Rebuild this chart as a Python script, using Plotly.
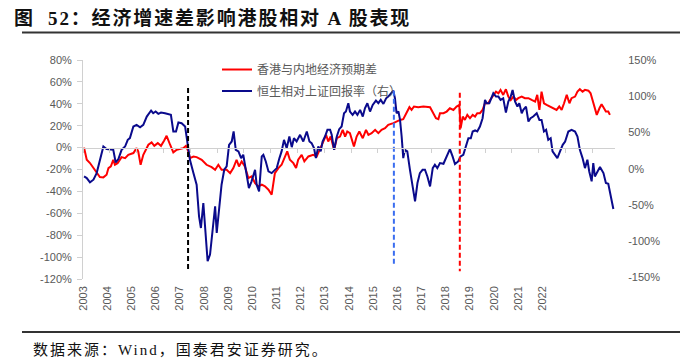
import plotly.graph_objects as go

# ---------------- data ----------------
# 香港与内地经济预期差 (left axis, %)
red_x = [2003.04, 2003.14, 2003.26, 2003.39, 2003.51, 2003.63, 2003.76, 2003.88, 2003.95, 2004.04,
         2004.13, 2004.19, 2004.29, 2004.44, 2004.57, 2004.69, 2004.88, 2005.00, 2005.06, 2005.15,
         2005.25, 2005.34, 2005.44, 2005.56, 2005.66, 2005.79, 2005.91, 2006.03, 2006.12, 2006.25,
         2006.37, 2006.50, 2006.62, 2006.74, 2006.84, 2006.93, 2006.99, 2007.12, 2007.24, 2007.43,
         2007.61, 2007.80, 2007.93, 2008.05, 2008.17, 2008.36, 2008.49, 2008.61, 2008.73, 2008.82,
         2008.92, 2009.04, 2009.17, 2009.29, 2009.42, 2009.54, 2009.67, 2009.79, 2009.92, 2010.04,
         2010.16, 2010.29, 2010.41, 2010.54, 2010.62, 2010.72, 2010.85, 2010.95, 2011.03, 2011.16,
         2011.26, 2011.41, 2011.59, 2011.72, 2011.84, 2011.97, 2012.07, 2012.15, 2012.24, 2012.37,
         2012.47, 2012.59, 2012.69, 2012.78, 2012.86, 2012.96, 2013.11, 2013.21, 2013.31, 2013.44,
         2013.56, 2013.65, 2013.77, 2013.90, 2014.02, 2014.14, 2014.27, 2014.39, 2014.58, 2014.70,
         2014.83, 2014.95, 2015.08, 2015.18, 2015.26, 2015.35, 2015.51, 2015.70, 2015.95, 2016.05,
         2016.17, 2016.26, 2016.32, 2016.45, 2016.57, 2016.69, 2016.82, 2016.94, 2017.04, 2017.09,
         2017.17, 2017.25, 2017.34, 2017.44, 2017.54, 2017.63, 2017.71, 2017.81, 2017.91, 2018.00,
         2018.12, 2018.19, 2018.31, 2018.41, 2018.50, 2018.58, 2018.68, 2018.78, 2018.87, 2018.96,
         2019.06, 2019.16, 2019.24, 2019.37, 2019.49, 2019.62, 2019.74, 2019.87, 2019.95, 2020.03,
         2020.11, 2020.20, 2020.30, 2020.42, 2020.55, 2020.67, 2020.77, 2020.86, 2020.95, 2021.05,
         2021.15, 2021.23, 2021.36, 2021.45, 2021.54, 2021.64, 2021.73, 2021.86, 2021.94, 2022.04,
         2022.17, 2022.27, 2022.35, 2022.44, 2022.51, 2022.60, 2022.66]
red_y = [0.0, -11.1, -14.1, -18.7, -23.2, -26.9, -27.2, -24.8, -18.7, -17.2,
         -11.1, -15.7, -14.2, -8.7, -9.6, -6.6, -5.0, -0.5, -3.5, -15.7,
         -6.6, -2.0, 2.6, 4.7, 1.6, 4.1, 1.6, 6.5, 10.8, 2.6,
         -4.4, -2.0, -1.4, -0.5, 1.6, -3.5, -9.6, -8.1, -8.7, -11.1,
         -15.7, -17.8, -20.2, -15.7, -20.2, -20.2, -23.3, -18.7, -11.1, -17.2,
         -12.6, -17.2, -27.8, -26.3, -32.4, -35.4, -33.9, -35.4, -38.5, -43.0,
         -23.3, -18.7, -15.7, -7.5, -3.5, -11.1, -14.2, -18.7, -11.1, -6.6,
         -12.6, -8.1, -6.6, -8.1, -2.0, 5.6, 11.7, 5.6, 10.1, -2.0,
         8.6, 10.1, 16.2, 10.1, 14.7, 13.2, 1.0, 10.1, 14.7, 8.6,
         16.2, 11.7, 13.2, 16.2, 13.2, 16.2, 17.7, 20.8, 22.3, 23.8,
         25.3, 25.9, 32.9, 36.9, 34.4, 37.5, 36.9, 37.5, 36.9, 32.9,
         26.8, 25.9, 31.4, 31.4, 32.9, 35.9, 34.4, 37.5, 39.0, 17.7,
         28.3, 25.3, 29.9, 26.8, 29.9, 28.3, 31.4, 31.4, 34.4, 40.5,
         40.5, 43.5, 48.1, 51.1, 49.6, 52.7, 48.1, 53.3, 46.6, 43.5,
         46.6, 43.5, 45.1, 46.6, 45.1, 45.1, 43.5, 42.0, 48.1, 34.4,
         51.1, 40.5, 39.0, 37.5, 35.9, 34.4, 37.5, 34.4, 40.5, 48.1,
         40.5, 45.1, 46.6, 51.1, 53.3, 51.1, 52.7, 52.0, 49.6, 42.0,
         29.9, 35.9, 39.6, 35.9, 32.9, 32.9, 29.9]

# 恒生相对上证回报率（右） (right axis, %)
blue_x = [2003.04, 2003.14, 2003.26, 2003.39, 2003.51, 2003.63, 2003.76, 2003.88, 2004.04, 2004.13,
          2004.22, 2004.32, 2004.44, 2004.57, 2004.67, 2004.75, 2004.88, 2005.00, 2005.13, 2005.25,
          2005.38, 2005.54, 2005.62, 2005.71, 2005.81, 2005.91, 2006.06, 2006.28, 2006.37, 2006.47,
          2006.56, 2006.68, 2006.81, 2006.91, 2006.99, 2007.12, 2007.24, 2007.33, 2007.40, 2007.49,
          2007.58, 2007.65, 2007.74, 2007.83, 2007.93, 2007.99, 2008.07, 2008.17, 2008.27, 2008.36,
          2008.45, 2008.55, 2008.62, 2008.70, 2008.80, 2008.90, 2008.98, 2009.07, 2009.19, 2009.29,
          2009.42, 2009.48, 2009.57, 2009.67, 2009.73, 2009.82, 2009.92, 2010.04, 2010.10, 2010.23,
          2010.33, 2010.41, 2010.50, 2010.60, 2010.70, 2010.79, 2010.87, 2010.97, 2011.10, 2011.22,
          2011.35, 2011.45, 2011.53, 2011.62, 2011.69, 2011.78, 2011.87, 2011.94, 2012.03, 2012.12,
          2012.22, 2012.28, 2012.37, 2012.47, 2012.56, 2012.65, 2012.74, 2012.81, 2012.90, 2012.96,
          2013.06, 2013.15, 2013.24, 2013.34, 2013.44, 2013.52, 2013.61, 2013.71, 2013.81, 2013.93,
          2014.02, 2014.11, 2014.21, 2014.31, 2014.39, 2014.48, 2014.58, 2014.64, 2014.70, 2014.77,
          2014.83, 2014.89, 2014.95, 2015.01, 2015.10, 2015.20, 2015.30, 2015.39, 2015.48, 2015.57,
          2015.67, 2015.76, 2015.85, 2015.95, 2016.05, 2016.13, 2016.22, 2016.32, 2016.45, 2016.57,
          2016.69, 2016.79, 2016.88, 2017.00, 2017.09, 2017.19, 2017.29, 2017.38, 2017.47, 2017.54,
          2017.63, 2017.71, 2017.81, 2017.91, 2018.00, 2018.06, 2018.16, 2018.25, 2018.31, 2018.41,
          2018.50, 2018.58, 2018.68, 2018.78, 2018.87, 2018.96, 2019.03, 2019.12, 2019.21, 2019.28,
          2019.37, 2019.43, 2019.53, 2019.62, 2019.70, 2019.80, 2019.93, 2020.03, 2020.11, 2020.20,
          2020.28, 2020.36, 2020.45, 2020.52, 2020.61, 2020.70, 2020.80, 2020.90, 2020.99, 2021.11,
          2021.23, 2021.36, 2021.45, 2021.54, 2021.64, 2021.73, 2021.82, 2021.89, 2021.98, 2022.04,
          2022.10, 2022.19, 2022.29, 2022.42, 2022.51, 2022.60, 2022.69, 2022.79]
blue_y = [-10.6, -12.8, -18.8, -15.1, -6.0, 10.1, 30.7, 27.1, 26.1, 26.1,
          8.7, 13.3, 26.1, 30.7, 39.9, 42.2, 58.3, 60.6, 57.3, 60.6,
          72.0, 80.3, 76.6, 78.9, 75.7, 77.5, 76.6, 74.3, 51.4, 51.4,
          63.8, 62.8, 58.3, 30.7, 12.4, -6.0, -22.0, -65.6, -81.7, -47.2,
          -93.1, -127.5, -118.3, -88.5, -51.8, -88.5, -61.0, -22.0, -1.4, 3.2,
          33.0, 37.6, 51.4, 26.1, 23.9, 14.7, 19.3, -1.4, -26.6, -17.4,
          -1.4, -22.0, -31.2, 17.0, 19.3, 10.1, -3.7, -6.0, -3.7, 0.9,
          14.7, 23.9, 39.9, 28.4, 44.5, 29.8, 42.2, 37.6, 46.8, 37.6,
          51.4, 37.6, 35.3, 28.4, 14.7, 30.7, 23.9, 37.6, 44.5, 53.7,
          53.7, 46.8, 26.1, 44.5, 54.6, 58.3, 76.6, 78.9, 90.4, 78.9,
          74.3, 78.9, 74.3, 81.2, 72.0, 83.5, 90.4, 78.9, 88.1, 94.0,
          90.4, 95.0, 89.4, 97.2, 99.5, 103.2, 107.8, 97.2, 76.6, 78.9,
          67.4, 44.5, 14.7, 26.1, 23.9, -1.4, -22.0, -45.0, -19.7, -6.0,
          -1.4, -1.4, -10.6, -24.3, 0.9, 5.5, 0.9, 7.8, 6.9, 17.9,
          27.1, 17.0, 6.4, 10.1, 17.0, 19.3, 30.7, 42.2, 42.2, 51.4,
          52.8, 51.4, 58.3, 69.7, 95.0, 90.4, 90.4, 97.2, 104.1, 99.5,
          99.5, 95.0, 97.2, 77.5, 92.7, 99.5, 108.7, 92.7, 85.8, 90.4,
          76.6, 81.2, 85.8, 65.1, 69.7, 72.0, 76.6, 67.4, 67.4, 51.4,
          53.7, 39.9, 42.2, 23.9, 19.3, 14.7, 23.9, 33.0, 37.6, 51.4,
          53.7, 51.4, 44.5, 26.1, 14.7, 0.9, 12.4, -3.7, -17.4, 7.8,
          -10.6, -3.7, 2.3, -6.0, -19.7, -20.6, -35.8, -55.5]

# event markers (dashed verticals), expressed on the right axis (%)
event_x = [2006.92, 2014.60, 2017.06]
event_top = [111.5, 107.7, 105.0]
event_bottom = [-141.3, -134.4, -141.3]
event_colors = ["#000000", "#3a6df0", "#ff0000"]

year_labels = [str(y) for y in range(2003, 2023)]
left_ticks = [80, 60, 40, 20, 0, -20, -40, -60, -80, -100, -120]
right_ticks = [150, 100, 50, 0, -50, -100, -150]

name_red = "香港与内地经济预期差"
name_blue = "恒生相对上证回报率（右）"
title_text = "图  52：经济增速差影响港股相对 A 股表现"
source_text = "数据来源：Wind，国泰君安证券研究。"

# ---------------- layout geometry (pixels) ----------------
W, H = 700, 364
L, R = 83, 615          # plot area left/right
T, B = 60, 279.5        # plot area top/bottom
PW, PH = R - L, B - T


def px(xp):
    return (xp - L) / PW


def py(yp):
    return (B - yp) / PH


x_range = [2003.0, 2003.0 + (R - L) / 26.8]
# Excel spreads the year labels evenly over a slightly narrower span
first_lab, last_lab = 2003.01, 2003.01 + (542.3 - 83.3) / 26.8
lab_pos = [first_lab + i * (last_lab - first_lab) / (len(year_labels) - 1) for i in range(len(year_labels))]

GRAY = "#595959"
AXC = "#d0d0d0"
tick_font = dict(family="Liberation Sans, Arial, sans-serif", size=11, color=GRAY)

fig = go.Figure()
fig.add_trace(go.Scatter(x=red_x, y=red_y, mode="lines", name=name_red, legendgroup="a",
                         line=dict(color="#ff0000", width=2), yaxis="y"))
fig.add_trace(go.Scatter(x=blue_x, y=blue_y, mode="lines", name=name_blue, legendgroup="b",
                         line=dict(color="#0a0a8c", width=2), yaxis="y2"))
for ex, et, eb, ec in zip(event_x, event_top, event_bottom, event_colors):
    fig.add_trace(go.Scatter(x=[ex, ex], y=[et, eb], mode="lines", showlegend=False,
                             line=dict(color=ec, width=2, dash="5px,3px"), yaxis="y2",
                             hoverinfo="skip"))
# carrier for the zero-line axis
fig.add_trace(go.Scatter(x=[], y=[], xaxis="x2", yaxis="y", showlegend=False, hoverinfo="skip"))

fig.update_layout(
    width=W, height=H,
    margin=dict(l=L, r=W - R, t=T, b=H - B),
    paper_bgcolor="white", plot_bgcolor="white",
    showlegend=True,
    legend=dict(x=px(217), y=py(55), xanchor="left", yanchor="top",
                bgcolor="rgba(0,0,0,0)", font=dict(family="Noto Sans CJK SC", size=12, color=GRAY),
                itemwidth=30, traceorder="grouped", tracegroupgap=2.5),
    xaxis=dict(range=x_range, tickmode="array", tickvals=lab_pos, ticktext=year_labels,
               tickangle=-90, tickfont=tick_font, showgrid=False, zeroline=False,
               showline=False, ticks="", ticklabelstandoff=4),
    xaxis2=dict(range=x_range, overlaying="x", anchor="free", position=0.6,
                showline=True, linecolor=AXC, linewidth=1, ticks="outside", ticklen=4,
                tickcolor=AXC, tickmode="linear", tick0=2003, dtick=1,
                showticklabels=False, showgrid=False, zeroline=False),
    yaxis=dict(range=[-120, 80], tickmode="array", tickvals=left_ticks,
               ticktext=[f"{v}%" for v in left_ticks], tickfont=tick_font,
               showgrid=False, zeroline=False, showline=True, linecolor=AXC,
               ticks="outside", ticklen=5, tickcolor=AXC, ticklabelstandoff=3),
    yaxis2=dict(range=[150 - PH / 0.7267, 150], overlaying="y", side="right",
                tickmode="array", tickvals=right_ticks,
                ticktext=[f"{v}%" for v in right_ticks], tickfont=tick_font,
                showgrid=False, zeroline=False, showline=False,
                ticks="outside", ticklen=10, tickcolor="rgba(0,0,0,0)"),
    annotations=[
        dict(text="<b><span style='letter-spacing:1.85px'>" + title_text + "</span></b>",
             xref="paper", yref="paper",
             x=px(12), y=py(18), xanchor="left", yanchor="middle", showarrow=False,
             font=dict(family="Liberation Serif, Noto Sans CJK SC", size=19, color="#111111")),
        dict(text="<span style='letter-spacing:2px'>" + source_text + "</span>",
             xref="paper", yref="paper",
             x=px(31), y=py(351), xanchor="left", yanchor="middle", showarrow=False,
             font=dict(family="Liberation Serif, Noto Sans CJK SC", size=15, color="#111111")),
    ],
    shapes=[
        dict(type="line", xref="paper", yref="paper", x0=px(22), x1=px(680), y0=py(32.5), y1=py(32.5),
             line=dict(color="#333333", width=2)),
        dict(type="line", xref="paper", yref="paper", x0=px(22), x1=px(680), y0=py(332.5), y1=py(332.5),
             line=dict(color="#333333", width=2)),
    ],
)

fig.write_html("out.html", post_script="document.body.style.margin='0';",
               config={"displayModeBar": False})
